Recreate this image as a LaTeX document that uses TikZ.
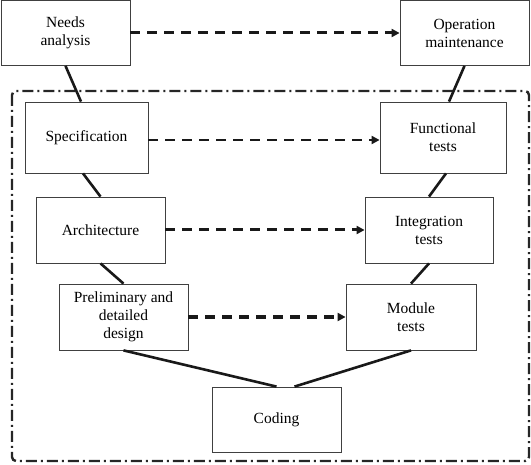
\documentclass[tikz,border=0pt]{standalone}
\usepackage{fontspec}
\setmainfont{Liberation Serif}
\usetikzlibrary{arrows.meta}

\tikzset{
	phase/.style={draw=black!75, line width=0.8pt, fill=white, align=center,
		font=\fontsize{15.5}{18}\selectfont, inner sep=2pt},
	link/.style={line width=2.6pt, color=black!90},
	flow/.style={line width=3pt, color=black!90, dash pattern=on 10pt off 7pt,
		-{Triangle[length=8pt,width=8pt]}},
	frame/.style={line width=2.4pt, color=black!85, rounded corners=4pt,
		dash pattern=on 11pt off 4pt on 2pt off 4pt}
}

\begin{document}
\begin{tikzpicture}[x=1pt, y=-1pt]
	%%%%% START %%%%%
	\useasboundingbox (0, 0) rectangle (531, 465);
	
	\draw[frame] (12, 91) rectangle (529, 461);
	
	\node[phase, minimum width=129pt, minimum height=65pt] (needs) at (65.5, 33) {Needs\\analysis};
	\node[phase, minimum width=129pt, minimum height=65pt] (oper) at (464.5, 33) {Operation\\maintenance};
	
	\node[phase, minimum width=123pt, minimum height=71pt] (spec) at (86.5, 137.5) {Specification};
	\node[phase, minimum width=126pt, minimum height=71pt] (func) at (443, 137.5) {Functional\\tests};
	
	\node[phase, minimum width=129pt, minimum height=66pt] (arch) at (100.5, 230) {Architecture};
	\node[phase, minimum width=128pt, minimum height=66pt] (integ) at (429, 230) {Integration\\tests};
	
	\node[phase, minimum width=129pt, minimum height=66pt] (prelim) at (123.5, 317) {Preliminary and\\detailed\\design};
	\node[phase, minimum width=130pt, minimum height=66pt] (module) at (411, 317) {Module\\tests};
	
	\node[phase, minimum width=129pt, minimum height=65pt] (coding) at (276.5, 419.5) {Coding};
	
	% left branch down, right branch up
	\draw[link] (needs.south) -- ([xshift=-5.5pt]spec.north);
	\draw[link] ([xshift=-3.5pt]spec.south) -- (arch.north);
	\draw[link] (arch.south) -- (prelim.north);
	\draw[link] (prelim.south) -- (coding.north);
	\draw[link] ([xshift=18pt]coding.north) -- (module.south);
	\draw[link] (module.north) -- (integ.south);
	\draw[link] (integ.north) -- ([xshift=3pt]func.south);
	\draw[link] ([xshift=6pt]func.north) -- (oper.south);
	
	% verification arrows
	\draw[flow] (needs) -- (oper);
	\draw[flow, line width=2.6pt] ([yshift=-2.5pt]spec.east) -- ([yshift=-2.5pt]func.west);
	\draw[flow] (arch) -- (integ);
	\draw[flow, line width=3.4pt] (prelim) -- (module);
	
	%%%%% END %%%%%
\end{tikzpicture}
\end{document}
